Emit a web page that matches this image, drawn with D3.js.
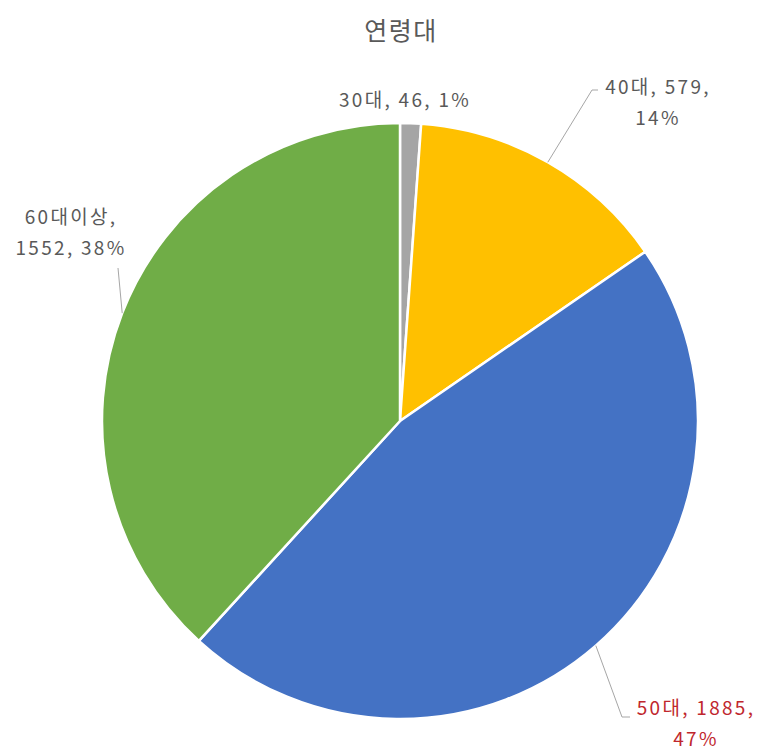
<!DOCTYPE html>
<html><head><meta charset="utf-8">
<script src="https://cdn.jsdelivr.net/npm/d3@7"></script>
<style>body{margin:0;background:#fff;}svg{display:block;font-family:"Noto Sans CJK KR","Noto Sans",sans-serif;}</style>
</head><body>
<svg id="c" width="760" height="753"></svg>
<script>
const title = "연령대";
const categories = ["30대", "40대", "50대", "60대이상"];
const values = [46, 579, 1885, 1552];
const percents = ["1%", "14%", "47%", "38%"];
const colors = ["#A5A5A5", "#FFC000", "#4472C4", "#70AD47"];
const labelColors = ["#595959", "#595959", "#C0272D", "#595959"];

const svg = d3.select("#c");
const cx = 400, cy = 421, r = 298;

svg.append("text").attr("x", 401).attr("y", 40).attr("text-anchor", "middle")
  .attr("font-size", 25).attr("letter-spacing", 1.5).attr("fill", "#595959").text(title);

const pie = d3.pie().sort(null).value(d => d)(values);
const arc = d3.arc().innerRadius(0).outerRadius(r);
const edge = d3.arc().innerRadius(r).outerRadius(r);
const g = svg.append("g").attr("transform", `translate(${cx},${cy})`);
g.selectAll("path.s").data(pie).join("path").attr("class", "s")
  .attr("d", arc).attr("fill", (d, i) => colors[i])
  .attr("stroke", "#fff").attr("stroke-width", 2.5).attr("stroke-linejoin", "round");

const layout = [
  {lines: [`${categories[0]}, ${values[0]}, ${percents[0]}`], x: 5, y: -314, leader: null},
  {lines: [`${categories[1]}, ${values[1]},`, percents[1]], x: 258, y: -327, leader: [[192, -331], [198, -331]]},
  {lines: [`${categories[2]}, ${values[2]},`, percents[2]], x: 296, y: 294, leader: [[222, 296], [230, 296]]},
  {lines: [`${categories[3]},`, `${values[3]}, ${percents[3]}`], x: -329, y: -197, leader: [[-282, -153], [-282, -153]]}
];

pie.forEach((d, i) => {
  const L = layout[i];
  if (L.leader) {
    const p = edge.centroid(d);
    g.append("path").attr("d", d3.line()([p, L.leader[0], L.leader[1]])).attr("fill", "none")
      .attr("stroke", "#A6A6A6").attr("stroke-width", 1);
  }
  const t = g.append("text").attr("text-anchor", "middle").attr("font-size", 19)
    .attr("letter-spacing", 2.3).attr("fill", labelColors[i]);
  L.lines.forEach((s, k) => t.append("tspan").attr("x", L.x).attr("y", L.y + k * 31).text(s));
});
</script>
</body></html>
